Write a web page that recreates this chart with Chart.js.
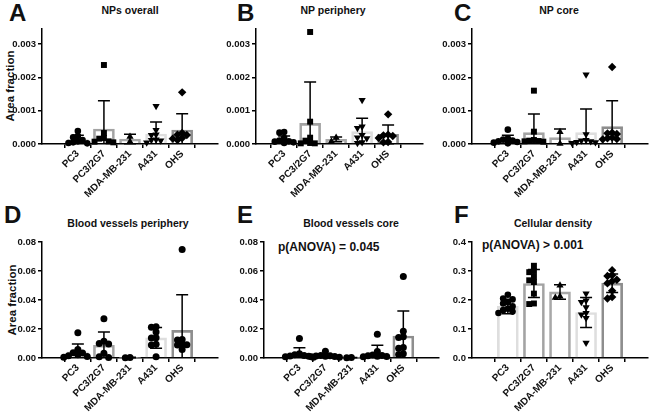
<!DOCTYPE html>
<html><head><meta charset="utf-8">
<script src="https://cdn.jsdelivr.net/npm/chart.js@4"></script>
<style>
html,body{margin:0;padding:0;background:#fff;}
body{width:651px;height:412px;position:relative;overflow:hidden;font-family:"Liberation Sans",Arial,sans-serif;}
canvas{position:absolute;}
.t{position:absolute;font-weight:bold;line-height:1;white-space:nowrap;color:#111;}
.ctr{transform:translateX(-50%);}
.rot{transform:translate(-50%,-50%) rotate(-90deg);}
</style></head><body>
<div class="t" style="left:9px;top:1px;font-size:24px;">A</div>
<div class="t" style="left:237px;top:1px;font-size:24px;">B</div>
<div class="t" style="left:454px;top:1px;font-size:24px;">C</div>
<div class="t" style="left:4px;top:203px;font-size:24px;">D</div>
<div class="t" style="left:237px;top:203px;font-size:24px;">E</div>
<div class="t" style="left:454px;top:203px;font-size:24px;">F</div>
<div class="t ctr" style="left:130px;top:5px;font-size:10.5px;">NPs overall</div>
<div class="t ctr" style="left:333px;top:5px;font-size:10.5px;">NP periphery</div>
<div class="t ctr" style="left:559px;top:5px;font-size:10.5px;">NP core</div>
<div class="t ctr" style="left:128px;top:218px;font-size:10.5px;">Blood vessels periphery</div>
<div class="t ctr" style="left:351px;top:218px;font-size:10.5px;">Blood vessels core</div>
<div class="t ctr" style="left:553px;top:218px;font-size:10.5px;">Cellular density</div>
<div class="t rot" style="left:11px;top:86px;font-size:11.5px;">Area fraction</div>
<div class="t rot" style="left:13px;top:300px;font-size:11.5px;">Area fraction</div>
<div class="t" style="left:278px;top:241px;font-size:12px;">p(ANOVA) = 0.045</div>
<div class="t" style="left:482px;top:239px;font-size:12px;">p(ANOVA) &gt; 0.001</div>
<script>
const categories = ['PC3', 'PC3/2G7', 'MDA-MB-231', 'A431', 'OHS'];

// A: NPs overall
const aMeans = [0.00014, 0.00045, 0.00015, 0.00030, 0.00042];
const aSD = [0.00012, 0.00085, 0.00014, 0.00036, 0.00049];
const aPoints = [
  [0.00039, 0.00024, 0.00020, 0.00012, 0.00008, 0.00005, 0.00003, 0.00002],
  [0.00237, 0.00033, 0.00018, 0.00016, 0.00008, 0.00007, 0.00005],
  [0.00007, 0.00022],
  [0.00114, 0.00042, 0.00028, 0.00027, 0.00013, 0.00012, 0.00010, 0.00004],
  [0.00155, 0.00033, 0.00028, 0.00027, 0.00018, 0.00016, 0.00012]
];
// B: NP periphery
const bMeans = [0.00015, 0.00062, 0.00014, 0.00037, 0.00029];
const bSD = [0.00009, 0.00124, 0.00007, 0.00040, 0.00028];
const bPoints = [
  [0.00036, 0.00034, 0.00018, 0.00010, 0.00008, 0.00007, 0.00005, 0.00003],
  [0.00336, 0.00067, 0.00019, 0.00010, 0.00003, 0.00002, 0.00002],
  [0.00008, 0.00019],
  [0.00132, 0.00052, 0.00048, 0.00027, 0.00019, 0.00017, 0.00005, 0.00003],
  [0.00089, 0.00028, 0.00026, 0.00024, 0.00018, 0.00006, 0.00005]
];
// C: NP core
const cMeans = [0.00013, 0.00034, 0.00019, 0.00034, 0.00052];
const cSD = [0.00013, 0.00056, 0.00026, 0.00071, 0.00078];
const cPoints = [
  [0.00043, 0.00016, 0.00013, 0.00010, 0.00008, 0.00006, 0.00004, 0.00002],
  [0.00160, 0.00037, 0.00012, 0.00010, 0.00009, 0.00008, 0.00007],
  [0.00036, 0.00001],
  [0.00208, 0.00029, 0.00012, 0.00010, 0.00008, 0.00006, 0.00005, 0.00003],
  [0.00231, 0.00034, 0.00032, 0.00030, 0.00019, 0.00017, 0.00015, 0.00014]
];
// D: Blood vessels periphery
const dMeans = [0.0042, 0.0088, 0.0003, 0.0139, 0.0190];
const dSD = [0.0055, 0.0091, 0.0002, 0.0072, 0.0246];
const dPoints = [
  [0.0174, 0.0058, 0.0036, 0.0034, 0.0022, 0.0015, 0.0010, 0.0005],
  [0.0271, 0.0115, 0.0100, 0.0096, 0.0032, 0.0008, 0.0003],
  [0.0002, 0.0004],
  [0.0215, 0.0212, 0.0180, 0.0140, 0.0138, 0.0095, 0.0090, 0.0008],
  [0.0749, 0.0128, 0.0124, 0.0094, 0.0092, 0.0090, 0.0058]
];
// E: Blood vessels core
const eMeans = [0.0030, 0.0016, 0.0003, 0.0036, 0.0152];
const eSD = [0.0040, 0.0011, 0.0001, 0.0052, 0.0173];
const ePoints = [
  [0.0134, 0.0030, 0.0022, 0.0018, 0.0014, 0.0012, 0.0009, 0.0005],
  [0.0046, 0.0018, 0.0016, 0.0014, 0.0012, 0.0010, 0.0008, 0.0005],
  [0.0002, 0.0003],
  [0.0163, 0.0045, 0.0020, 0.0018, 0.0015, 0.0012, 0.0010, 0.0008],
  [0.0562, 0.0184, 0.0146, 0.0142, 0.0072, 0.0068, 0.0030, 0.0025]
];
// F: Cellular density
const fMeans = [0.178, 0.257, 0.228, 0.157, 0.258];
const fSD = [0.025, 0.048, 0.025, 0.052, 0.032];
const fPoints = [
  [0.218, 0.205, 0.202, 0.192, 0.188, 0.178, 0.170, 0.165, 0.160, 0.155],
  [0.318, 0.300, 0.296, 0.280, 0.268, 0.262, 0.222, 0.188, 0.186],
  [0.250, 0.212, 0.208],
  [0.222, 0.198, 0.193, 0.175, 0.155, 0.150, 0.138, 0.052],
  [0.303, 0.285, 0.283, 0.270, 0.265, 0.258, 0.232, 0.210, 0.205]
];

const barColors = ['#dedede', '#a3a3a3', '#a8a8a8', '#dedede', '#8e8e8e'];
const variedStyles = ['circle', 'rect', 'triangle', 'triangle', 'rectRot'];
const variedRot = [0, 0, 0, 180, 0];
const variedRad = [3.3, 4.2, 4.2, 4.2, 4.2];
const circleStyles = ['circle', 'circle', 'circle', 'circle', 'circle'];
const circleRot = [0, 0, 0, 0, 0];
const circleRad = [3.5, 3.5, 3.5, 3.5, 3.5];

function swarm(vals, range) {
  const tolY = range * 0.04, step = 0.18;
  const order = vals.map((v, i) => i).sort((a, b) => vals[b] - vals[a]);
  const placed = [], offs = new Array(vals.length).fill(0);
  const cands = [0, -1, 1, -2, 2, -3, 3];
  for (const i of order) {
    for (const k of cands) {
      const dx = k * step;
      if (placed.every(p => Math.abs(p.y - vals[i]) >= tolY || Math.abs(p.x - dx) >= step * 0.99)) {
        offs[i] = dx; placed.push({x: dx, y: vals[i]}); break;
      }
    }
  }
  return offs;
}

const errPlugin = {
  id: 'err',
  beforeDatasetDraw(chart, args, opts) {
    if (args.index !== 1) return;
    const ctx = chart.ctx, x = chart.scales.x, y = chart.scales.y;
    ctx.save(); ctx.strokeStyle = '#000'; ctx.lineWidth = 1.5;
    opts.means.forEach((m, i) => {
      const px = x.getPixelForValue(i);
      const hi = y.getPixelForValue(m + opts.sd[i]);
      const loV = m - opts.sd[i];
      const lo = y.getPixelForValue(Math.max(0, loV));
      ctx.beginPath();
      ctx.moveTo(px, lo); ctx.lineTo(px, hi);
      ctx.moveTo(px - 6, hi); ctx.lineTo(px + 6, hi);
      if (loV > 0) { ctx.moveTo(px - 6, lo); ctx.lineTo(px + 6, lo); }
      ctx.stroke();
    });
    ctx.restore();
  }
};

const panels = [
  {L: 42, R: 218, T: 29, B: 144, xmin: -0.7, ymax: 0.00345, step: 0.001, dec: 3, means: aMeans, sd: aSD, pts: aPoints, circles: false},
  {L: 256, R: 423, T: 29, B: 144, xmin: -0.44, ymax: 0.00345, step: 0.001, dec: 3, means: bMeans, sd: bSD, pts: bPoints, circles: false},
  {L: 472, R: 648, T: 29, B: 144, xmin: -0.7, ymax: 0.00345, step: 0.001, dec: 3, means: cMeans, sd: cSD, pts: cPoints, circles: false},
  {L: 42, R: 218, T: 242, B: 358, xmin: -0.7, ymax: 0.08, step: 0.02, dec: 2, means: dMeans, sd: dSD, pts: dPoints, circles: true},
  {L: 264, R: 439, T: 242, B: 358, xmin: -0.69, ymax: 0.08, step: 0.02, dec: 2, means: eMeans, sd: eSD, pts: ePoints, circles: true},
  {L: 472, R: 648, T: 242, B: 358, xmin: -0.7, ymax: 0.4, step: 0.1, dec: 1, means: fMeans, sd: fSD, pts: fPoints, circles: false}
];

const yFont = {family: '"Liberation Sans", Arial, sans-serif', size: 9.5, weight: 'bold'};
const xFont = {family: '"Liberation Sans", Arial, sans-serif', size: 10, weight: 'bold'};

panels.forEach(p => {
  const padT = 8, padR = 6, yW = 45, xH = 70;
  const w = p.R - p.L + yW + padR, h = p.B - p.T + padT + xH;
  const cv = document.createElement('canvas');
  cv.width = w; cv.height = h;
  cv.style.left = (p.L - yW) + 'px'; cv.style.top = (p.T - padT) + 'px';
  cv.style.width = w + 'px'; cv.style.height = h + 'px';
  document.body.appendChild(cv);

  const st = p.circles ? circleStyles : variedStyles;
  const ro = p.circles ? circleRot : variedRot;
  const ra = p.circles ? circleRad : variedRad;
  const pts = [], styles = [], rots = [], rads = [];
  p.pts.forEach((grp, g) => {
    const offs = swarm(grp, p.ymax);
    grp.forEach((v, k) => {
      pts.push({x: g + offs[k], y: v});
      styles.push(st[g]); rots.push(ro[g]); rads.push(ra[g]);
    });
  });

  new Chart(cv, {
    type: 'bar',
    data: {
      datasets: [
        {type: 'bar', data: p.means.map((m, i) => ({x: i, y: m})), borderColor: barColors,
         backgroundColor: 'rgba(255,255,255,0)', borderWidth: 2, barThickness: 21, borderSkipped: 'start', order: 2},
        {type: 'scatter', data: pts, pointStyle: styles, pointRotation: rots, pointRadius: rads,
         pointBackgroundColor: '#000', pointBorderColor: '#000', pointBorderWidth: 0, clip: false, order: 1}
      ]
    },
    options: {
      responsive: false, animation: false, events: [],
      layout: {padding: {top: padT, right: padR, left: 0, bottom: 0}},
      plugins: {legend: {display: false}, tooltip: {enabled: false}, err: {means: p.means, sd: p.sd}},
      scales: {
        x: {
          type: 'linear', min: p.xmin, max: 4.7,
          afterBuildTicks: s => { s.ticks = categories.map((c, i) => ({value: i})); },
          afterFit: s => { s.height = xH; },
          ticks: {autoSkip: false, maxRotation: 45, minRotation: 45, padding: 0, color: '#111', font: xFont,
                  callback: v => categories[v] !== undefined ? categories[v] : ''},
          grid: {display: true, drawOnChartArea: false, drawTicks: true, tickLength: 4, color: '#000', lineWidth: 1.5},
          border: {display: true, color: '#000', width: 1.5}
        },
        y: {
          min: 0, max: p.ymax,
          afterFit: s => { s.width = yW; },
          ticks: {stepSize: p.step, includeBounds: false, padding: 2, color: '#111', font: yFont,
                  callback: v => Number(v).toFixed(p.dec)},
          grid: {display: true, drawOnChartArea: false, drawTicks: true, tickLength: 4, color: '#000', lineWidth: 1.5},
          border: {display: true, color: '#000', width: 1.5}
        }
      }
    },
    plugins: [errPlugin]
  });
});
</script>
</body></html>
